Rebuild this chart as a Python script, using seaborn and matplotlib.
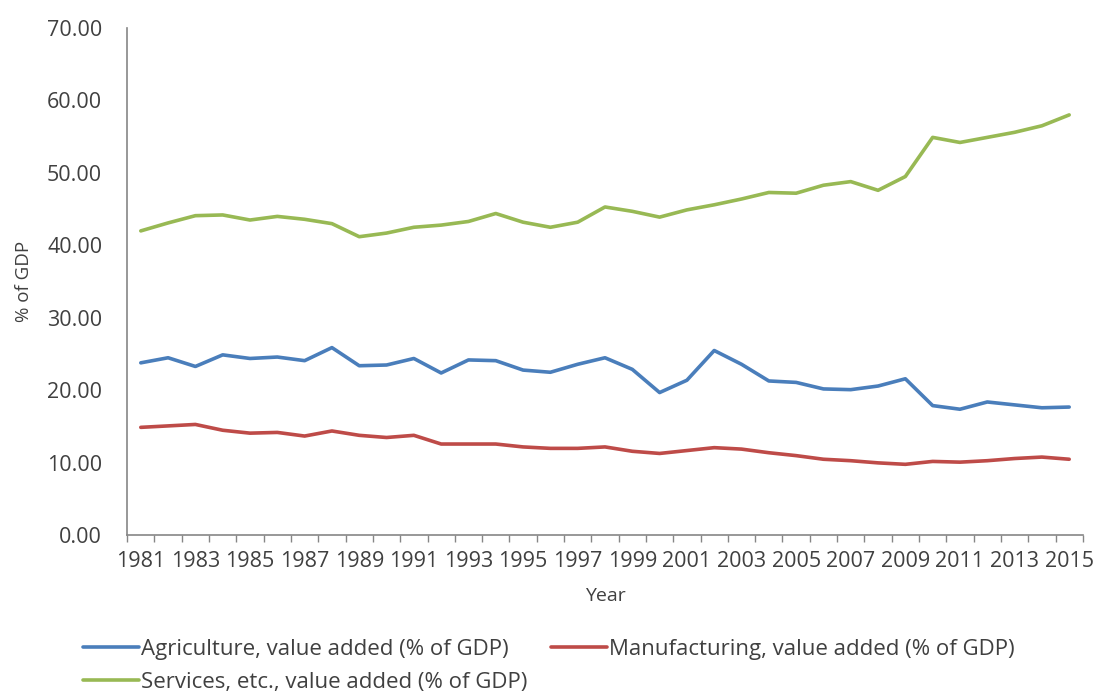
import numpy as np
import pandas as pd
import matplotlib
matplotlib.use("Agg")
import matplotlib.pyplot as plt
import seaborn as sns
from matplotlib.ticker import MultipleLocator, FormatStrFormatter

# Values
years = list(range(1981, 2016))

agriculture = [23.8, 24.5, 23.3, 24.9, 24.4, 24.6, 24.1, 25.9, 23.4, 23.5,
               24.4, 22.4, 24.2, 24.1, 22.8, 22.5, 23.6, 24.5, 22.9, 19.7,
               21.4, 25.5, 23.6, 21.3, 21.1, 20.2, 20.1, 20.6, 21.6, 17.9,
               17.4, 18.4, 18.0, 17.6, 17.7]

manufacturing = [14.9, 15.1, 15.3, 14.5, 14.1, 14.2, 13.7, 14.4, 13.8, 13.5,
                 13.8, 12.6, 12.6, 12.6, 12.2, 12.0, 12.0, 12.2, 11.6, 11.3,
                 11.7, 12.1, 11.9, 11.4, 11.0, 10.5, 10.3, 10.0, 9.8, 10.2,
                 10.1, 10.3, 10.6, 10.8, 10.5]

services = [42.0, 43.1, 44.1, 44.2, 43.5, 44.0, 43.6, 43.0, 41.2, 41.7,
            42.5, 42.8, 43.3, 44.4, 43.2, 42.5, 43.2, 45.3, 44.7, 43.9,
            44.9, 45.6, 46.4, 47.3, 47.2, 48.3, 48.8, 47.6, 49.5, 54.9,
            54.2, 54.9, 55.6, 56.5, 58.0]

series_names = ["Agriculture, value added (% of GDP)",
                "Manufacturing, value added (% of GDP)",
                "Services, etc., value added (% of GDP)"]
colors = ["#4A7EBB", "#BE4B48", "#98B954"]

df = pd.DataFrame({
    "Year": years * 3,
    "value": agriculture + manufacturing + services,
    "series": np.repeat(series_names, len(years)),
})

sns.set_theme(style="white")
plt.rcParams["font.family"] = ["Open Sans", "DejaVu Sans"]
text_color = "#404040"
axis_color = "#868686"

fig = plt.figure(figsize=(10.96, 6.98), dpi=100)
ax = fig.add_axes([0.116, 0.233, 0.872, 0.727])

sns.lineplot(data=df, x="Year", y="value", hue="series",
             palette=dict(zip(series_names, colors)),
             linewidth=2.6, ax=ax, legend=True)

ax.set_xlim(1980.5, 2015.5)
ax.set_ylim(0, 70)
ax.yaxis.set_major_locator(MultipleLocator(10))
ax.yaxis.set_major_formatter(FormatStrFormatter("%.2f"))
ax.set_xticks(years[::2])
ax.set_xticks(np.arange(1980.5, 2016, 1.0), minor=True)

for side in ["top", "right"]:
    ax.spines[side].set_visible(False)
for side in ["left", "bottom"]:
    ax.spines[side].set_color(axis_color)
    ax.spines[side].set_linewidth(1.2)

ax.tick_params(axis="y", which="major", direction="out", length=5, width=1,
               color=axis_color, labelsize=15.5, labelcolor=text_color, pad=13)
ax.tick_params(axis="x", which="major", length=0, labelsize=15.5,
               labelcolor=text_color, pad=11)
ax.tick_params(axis="x", which="minor", direction="out", length=5, width=1,
               color=axis_color, bottom=True)

ax.set_xlabel("Year", fontsize=14, color=text_color, labelpad=11)
ax.set_ylabel("% of GDP", fontsize=13.5, color=text_color, labelpad=10)

handles, labels = ax.get_legend_handles_labels()
ax.get_legend().remove()
order = [0, 2, 1]
fig.legend([handles[i] for i in order], [labels[i] for i in order],
           loc="lower left", bbox_to_anchor=(0.064, -0.012), ncol=2,
           frameon=False, fontsize=16, handlelength=2.5, handletextpad=0.1,
           columnspacing=1.05, labelspacing=0.55, borderpad=0.1,
           labelcolor=text_color)

fig.savefig("out.png", dpi=100)
